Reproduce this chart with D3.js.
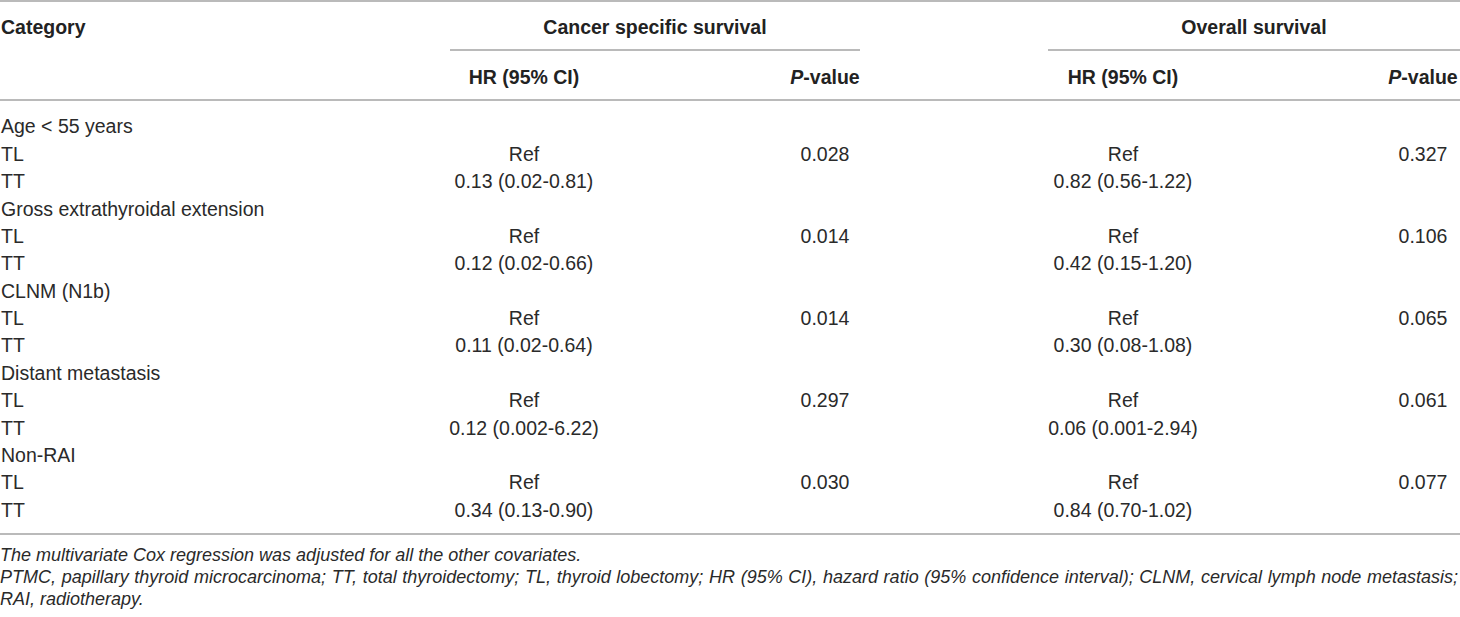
<!DOCTYPE html>
<html>
<head>
<meta charset="utf-8">
<script src="https://cdn.jsdelivr.net/npm/d3@7"></script>
<style>
  html, body { margin: 0; padding: 0; background: #fff; }
  svg { display: block; font-family: "Liberation Sans", Arial, Helvetica, sans-serif; }
  .cell { font-size: 19.5px; fill: #2a2a2a; }
  .head { font-size: 19.5px; font-weight: bold; fill: #222; }
  .note { font-size: 18px; font-style: italic; fill: #2a2a2a; }
  .rule { stroke: #a3a3a3; stroke-width: 1.6; }
</style>
</head>
<body>
<svg id="chart"></svg>
<script>
// table content
const groups = ["Age < 55 years", "Gross extrathyroidal extension", "CLNM (N1b)", "Distant metastasis", "Non-RAI"];
const refLabel = "Ref";
const cssHR = ["0.13 (0.02-0.81)", "0.12 (0.02-0.66)", "0.11 (0.02-0.64)", "0.12 (0.002-6.22)", "0.34 (0.13-0.90)"];
const cssP = ["0.028", "0.014", "0.014", "0.297", "0.030"];
const osHR = ["0.82 (0.56-1.22)", "0.42 (0.15-1.20)", "0.30 (0.08-1.08)", "0.06 (0.001-2.94)", "0.84 (0.70-1.02)"];
const osP = ["0.327", "0.106", "0.065", "0.061", "0.077"];
const subRows = ["TL", "TT"];
const groupHeaders = ["Cancer specific survival", "Overall survival"];
const notes = [
    "The multivariate Cox regression was adjusted for all the other covariates.",
    "PTMC, papillary thyroid microcarcinoma; TT, total thyroidectomy; TL, thyroid lobectomy; HR (95% CI), hazard ratio (95% confidence interval); CLNM, cervical lymph node metastasis;",
    "RAI, radiotherapy."
];

const width = 1460, height = 617;
const svg = d3.select("#chart").attr("width", width).attr("height", height);

// flatten into table rows: group label, TL (Ref + p), TT (HR)
const rows = [];
groups.forEach((g, i) => {
    rows.push({label: g});
    rows.push({label: subRows[0], cssHR: refLabel, cssP: cssP[i], osHR: refLabel, osP: osP[i]});
    rows.push({label: subRows[1], cssHR: cssHR[i], osHR: osHR[i]});
});

const y = d3.scaleLinear().domain([0, rows.length - 1]).range([126.5, 510]);

// column centres
const col = {label: 1, cssHR: 524, cssP: 825, osHR: 1123, osP: 1423};
const spans = [[450, 860], [1048, 1460]];

// rules
svg.append("line").attr("class", "rule").attr("x1", 0).attr("x2", width).attr("y1", 1).attr("y2", 1);
svg.append("line").attr("class", "rule").attr("x1", 0).attr("x2", width).attr("y1", 100).attr("y2", 100);
svg.append("line").attr("class", "rule").attr("x1", 0).attr("x2", width).attr("y1", 534).attr("y2", 534);
svg.selectAll("line.span")
    .data(spans)
    .join("line")
    .attr("class", "rule span")
    .attr("x1", d => d[0]).attr("x2", d => d[1])
    .attr("y1", 50).attr("y2", 50);

// header
svg.append("text").attr("class", "head")
    .attr("x", col.label).attr("y", 27).attr("dy", "0.35em")
    .text("Category");

svg.selectAll("text.group")
    .data(groupHeaders)
    .join("text")
    .attr("class", "head group")
    .attr("x", (d, i) => (spans[i][0] + spans[i][1]) / 2)
    .attr("y", 27).attr("dy", "0.35em")
    .attr("text-anchor", "middle")
    .text(d => d);

const subHead = [
    {x: col.cssHR, kind: "hr"}, {x: col.cssP, kind: "p"},
    {x: col.osHR, kind: "hr"}, {x: col.osP, kind: "p"}
];
subHead.forEach(s => {
    const t = svg.append("text").attr("class", "head")
        .attr("x", s.x).attr("y", 77).attr("dy", "0.35em")
        .attr("text-anchor", "middle");
    if (s.kind === "hr") {
        t.text("HR (95% CI)");
    } else {
        t.append("tspan").attr("font-style", "italic").text("P");
        t.append("tspan").text("-value");
    }
});

// body
const body = svg.append("g");
rows.forEach((r, i) => {
    body.append("text").attr("class", "cell")
        .attr("x", col.label).attr("y", y(i)).attr("dy", "0.35em")
        .text(r.label);
    ["cssHR", "cssP", "osHR", "osP"].forEach(k => {
        if (r[k] === undefined) return;
        body.append("text").attr("class", "cell")
            .attr("x", col[k]).attr("y", y(i)).attr("dy", "0.35em")
            .attr("text-anchor", "middle")
            .text(r[k]);
    });
});

// footnotes, middle one justified to full width
const noteY = [555, 577, 599];
svg.selectAll("text.note")
    .data(notes)
    .join("text")
    .attr("class", "note")
    .attr("x", 0)
    .attr("y", (d, i) => noteY[i]).attr("dy", "0.35em")
    .text(d => d)
    .each(function (d, i) {
        if (i !== 1) return;
        const len = this.getComputedTextLength();
        const gaps = d.split(" ").length - 1;
        d3.select(this).attr("word-spacing", (width - 2 - len) / gaps);
    });
</script>
</body>
</html>
